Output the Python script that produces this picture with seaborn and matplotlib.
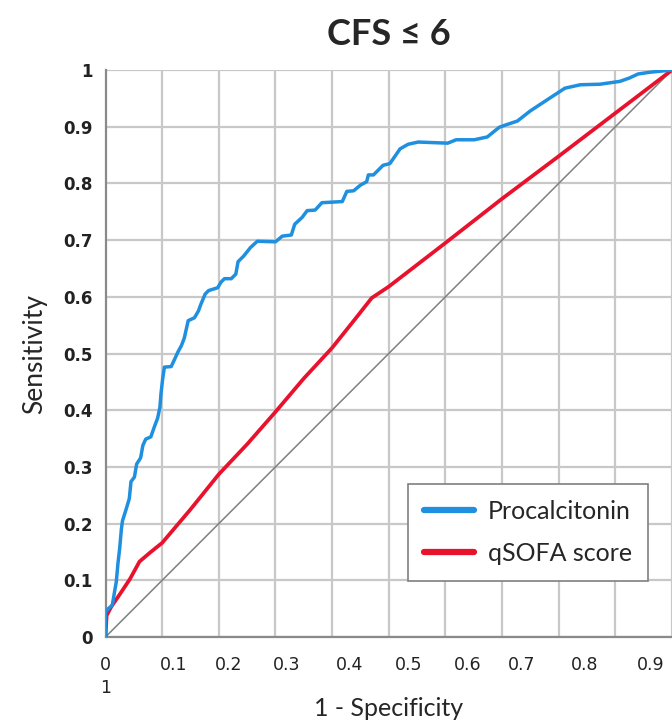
import numpy as np
import pandas as pd
import matplotlib
matplotlib.use("Agg")
import matplotlib.pyplot as plt
import seaborn as sns

# ---- data ----
pct_fpr = [0, 0, 0.005, 0.012, 0.016, 0.019, 0.022, 0.025, 0.028, 0.03, 0.036, 0.042, 0.045,
           0.051, 0.055, 0.062, 0.066, 0.071, 0.08, 0.086, 0.092, 0.096, 0.098, 0.101, 0.104,
           0.116, 0.122, 0.128, 0.134, 0.139, 0.146, 0.157, 0.164, 0.168, 0.176, 0.182, 0.198,
           0.204, 0.21, 0.222, 0.23, 0.234, 0.244, 0.256, 0.268, 0.3, 0.312, 0.328, 0.334,
           0.347, 0.356, 0.37, 0.382, 0.418, 0.426, 0.438, 0.45, 0.461, 0.464, 0.473, 0.49,
           0.502, 0.52, 0.534, 0.552, 0.604, 0.619, 0.651, 0.674, 0.695, 0.709, 0.727, 0.75,
           0.785, 0.811, 0.838, 0.873, 0.908, 0.925, 0.94, 0.96, 1.0]
pct_tpr = [0, 0.044, 0.05, 0.056, 0.08, 0.097, 0.13, 0.156, 0.19, 0.205, 0.224, 0.244, 0.274,
           0.282, 0.305, 0.316, 0.338, 0.349, 0.353, 0.37, 0.386, 0.405, 0.43, 0.456, 0.476,
           0.477, 0.49, 0.503, 0.514, 0.527, 0.558, 0.563, 0.575, 0.586, 0.605, 0.611, 0.616,
           0.626, 0.632, 0.632, 0.64, 0.662, 0.672, 0.687, 0.698, 0.697, 0.707, 0.709, 0.728,
           0.74, 0.752, 0.753, 0.766, 0.768, 0.786, 0.787, 0.797, 0.803, 0.815, 0.815, 0.832,
           0.835, 0.861, 0.869, 0.873, 0.871, 0.877, 0.877, 0.882, 0.899, 0.904, 0.91, 0.928,
           0.951, 0.968, 0.974, 0.975, 0.98, 0.986, 0.993, 0.996, 1.0]

qsofa_fpr = [0, 0.002, 0.01, 0.025, 0.043, 0.06, 0.08, 0.1, 0.15, 0.2, 0.25, 0.3, 0.35, 0.4,
             0.44, 0.47, 0.5, 0.6, 0.7, 0.8, 0.9, 1.0]
qsofa_tpr = [0, 0.038, 0.053, 0.075, 0.102, 0.133, 0.15, 0.166, 0.225, 0.287, 0.34, 0.397,
             0.456, 0.51, 0.56, 0.598, 0.618, 0.695, 0.773, 0.848, 0.924, 1.0]

ref_x = [0, 1]
ref_y = [0, 1]

series_names = ["Procalcitonin", "qSOFA score"]
series_colors = ["#1f8fe0", "#e8122d"]

title = "CFS \u2264 6"
xlabel = "1 - Specificity"
ylabel = "Sensitivity"

y_ticks = [0, 0.1, 0.2, 0.3, 0.4, 0.5, 0.6, 0.7, 0.8, 0.9, 1]
y_ticklabels = ["0", "0.1", "0.2", "0.3", "0.4", "0.5", "0.6", "0.7", "0.8", "0.9", "1"]
x_grid = [0, 0.1, 0.2, 0.3, 0.4, 0.5, 0.6, 0.7, 0.8, 0.9, 1.0]
# label positions as they appear (shifted relative to grid in the reference)
x_label_pos = [0, 0.12, 0.217, 0.32, 0.43, 0.535, 0.64, 0.734, 0.846, 0.962]
x_ticklabels = ["0\n1", "0.1", "0.2", "0.3", "0.4", "0.5", "0.6", "0.7", "0.8", "0.9"]

# ---- plot ----
sns.set_style("white")
plt.rcParams["font.family"] = ["Lato", "DejaVu Sans"]

fig = plt.figure(figsize=(6.72, 7.25), dpi=100)
ax = fig.add_axes([0.157, 0.1214, 0.843, 0.782])

sns.lineplot(x=ref_x, y=ref_y, ax=ax, color="#808080", linewidth=1.1, sort=False,
             estimator=None, zorder=3)
df_p = pd.DataFrame({"x": pct_fpr, "y": pct_tpr})
df_q = pd.DataFrame({"x": qsofa_fpr, "y": qsofa_tpr})
sns.lineplot(data=df_q, x="x", y="y", ax=ax, color=series_colors[1], linewidth=2.7,
             sort=False, estimator=None, label=series_names[1], zorder=4)
sns.lineplot(data=df_p, x="x", y="y", ax=ax, color=series_colors[0], linewidth=2.5,
             sort=False, estimator=None, label=series_names[0], zorder=5)

ax.set_xlim(0, 1)
ax.set_ylim(0, 1)

ax.set_yticks(y_ticks)
ax.set_yticklabels(y_ticklabels, fontfamily="DejaVu Sans", fontweight="bold", fontsize=12,
                   color="#222222")
ax.set_xticks(x_label_pos)
ax.set_xticklabels(x_ticklabels, fontfamily="DejaVu Sans", fontsize=12.5, color="#222222",
                   linespacing=1.35)
for lbl in ax.get_xticklabels():
    lbl.set_verticalalignment("top")
ax.set_xticks(x_grid, minor=True)
ax.tick_params(axis="both", which="both", length=0)
ax.tick_params(axis="x", pad=14)
ax.tick_params(axis="y", pad=9)

ax.grid(False)
ax.grid(axis="y", which="major", color="#c8c8c8", linewidth=1.6)
ax.grid(axis="x", which="minor", color="#c8c8c8", linewidth=1.6)

for s in ["top", "right"]:
    ax.spines[s].set_visible(False)
for s in ["left", "bottom"]:
    ax.spines[s].set_color("#8a8a8a")
    ax.spines[s].set_linewidth(1.6)

fig.text(0.579, 0.952, title, ha="center", va="center", fontsize=26, fontweight="bold",
         family=["Lato", "DejaVu Sans"])
ax.set_xlabel(xlabel, fontsize=18, labelpad=0)
ax.set_ylabel(ylabel, fontsize=19, labelpad=12)

handles, labels = ax.get_legend_handles_labels()
order = [labels.index(n) for n in series_names]
leg = ax.legend([handles[i] for i in order], [labels[i] for i in order],
                loc="lower right", bbox_to_anchor=(0.98, 0.077), fontsize=18,
                frameon=True, fancybox=False, framealpha=1, edgecolor="#7f7f7f",
                handlelength=2.0, handletextpad=0.55, borderpad=0.65, labelspacing=0.75)
leg.get_frame().set_linewidth(1.2)
for line in leg.get_lines():
    line.set_linewidth(4.5)

fig.savefig("out.png", dpi=100)
